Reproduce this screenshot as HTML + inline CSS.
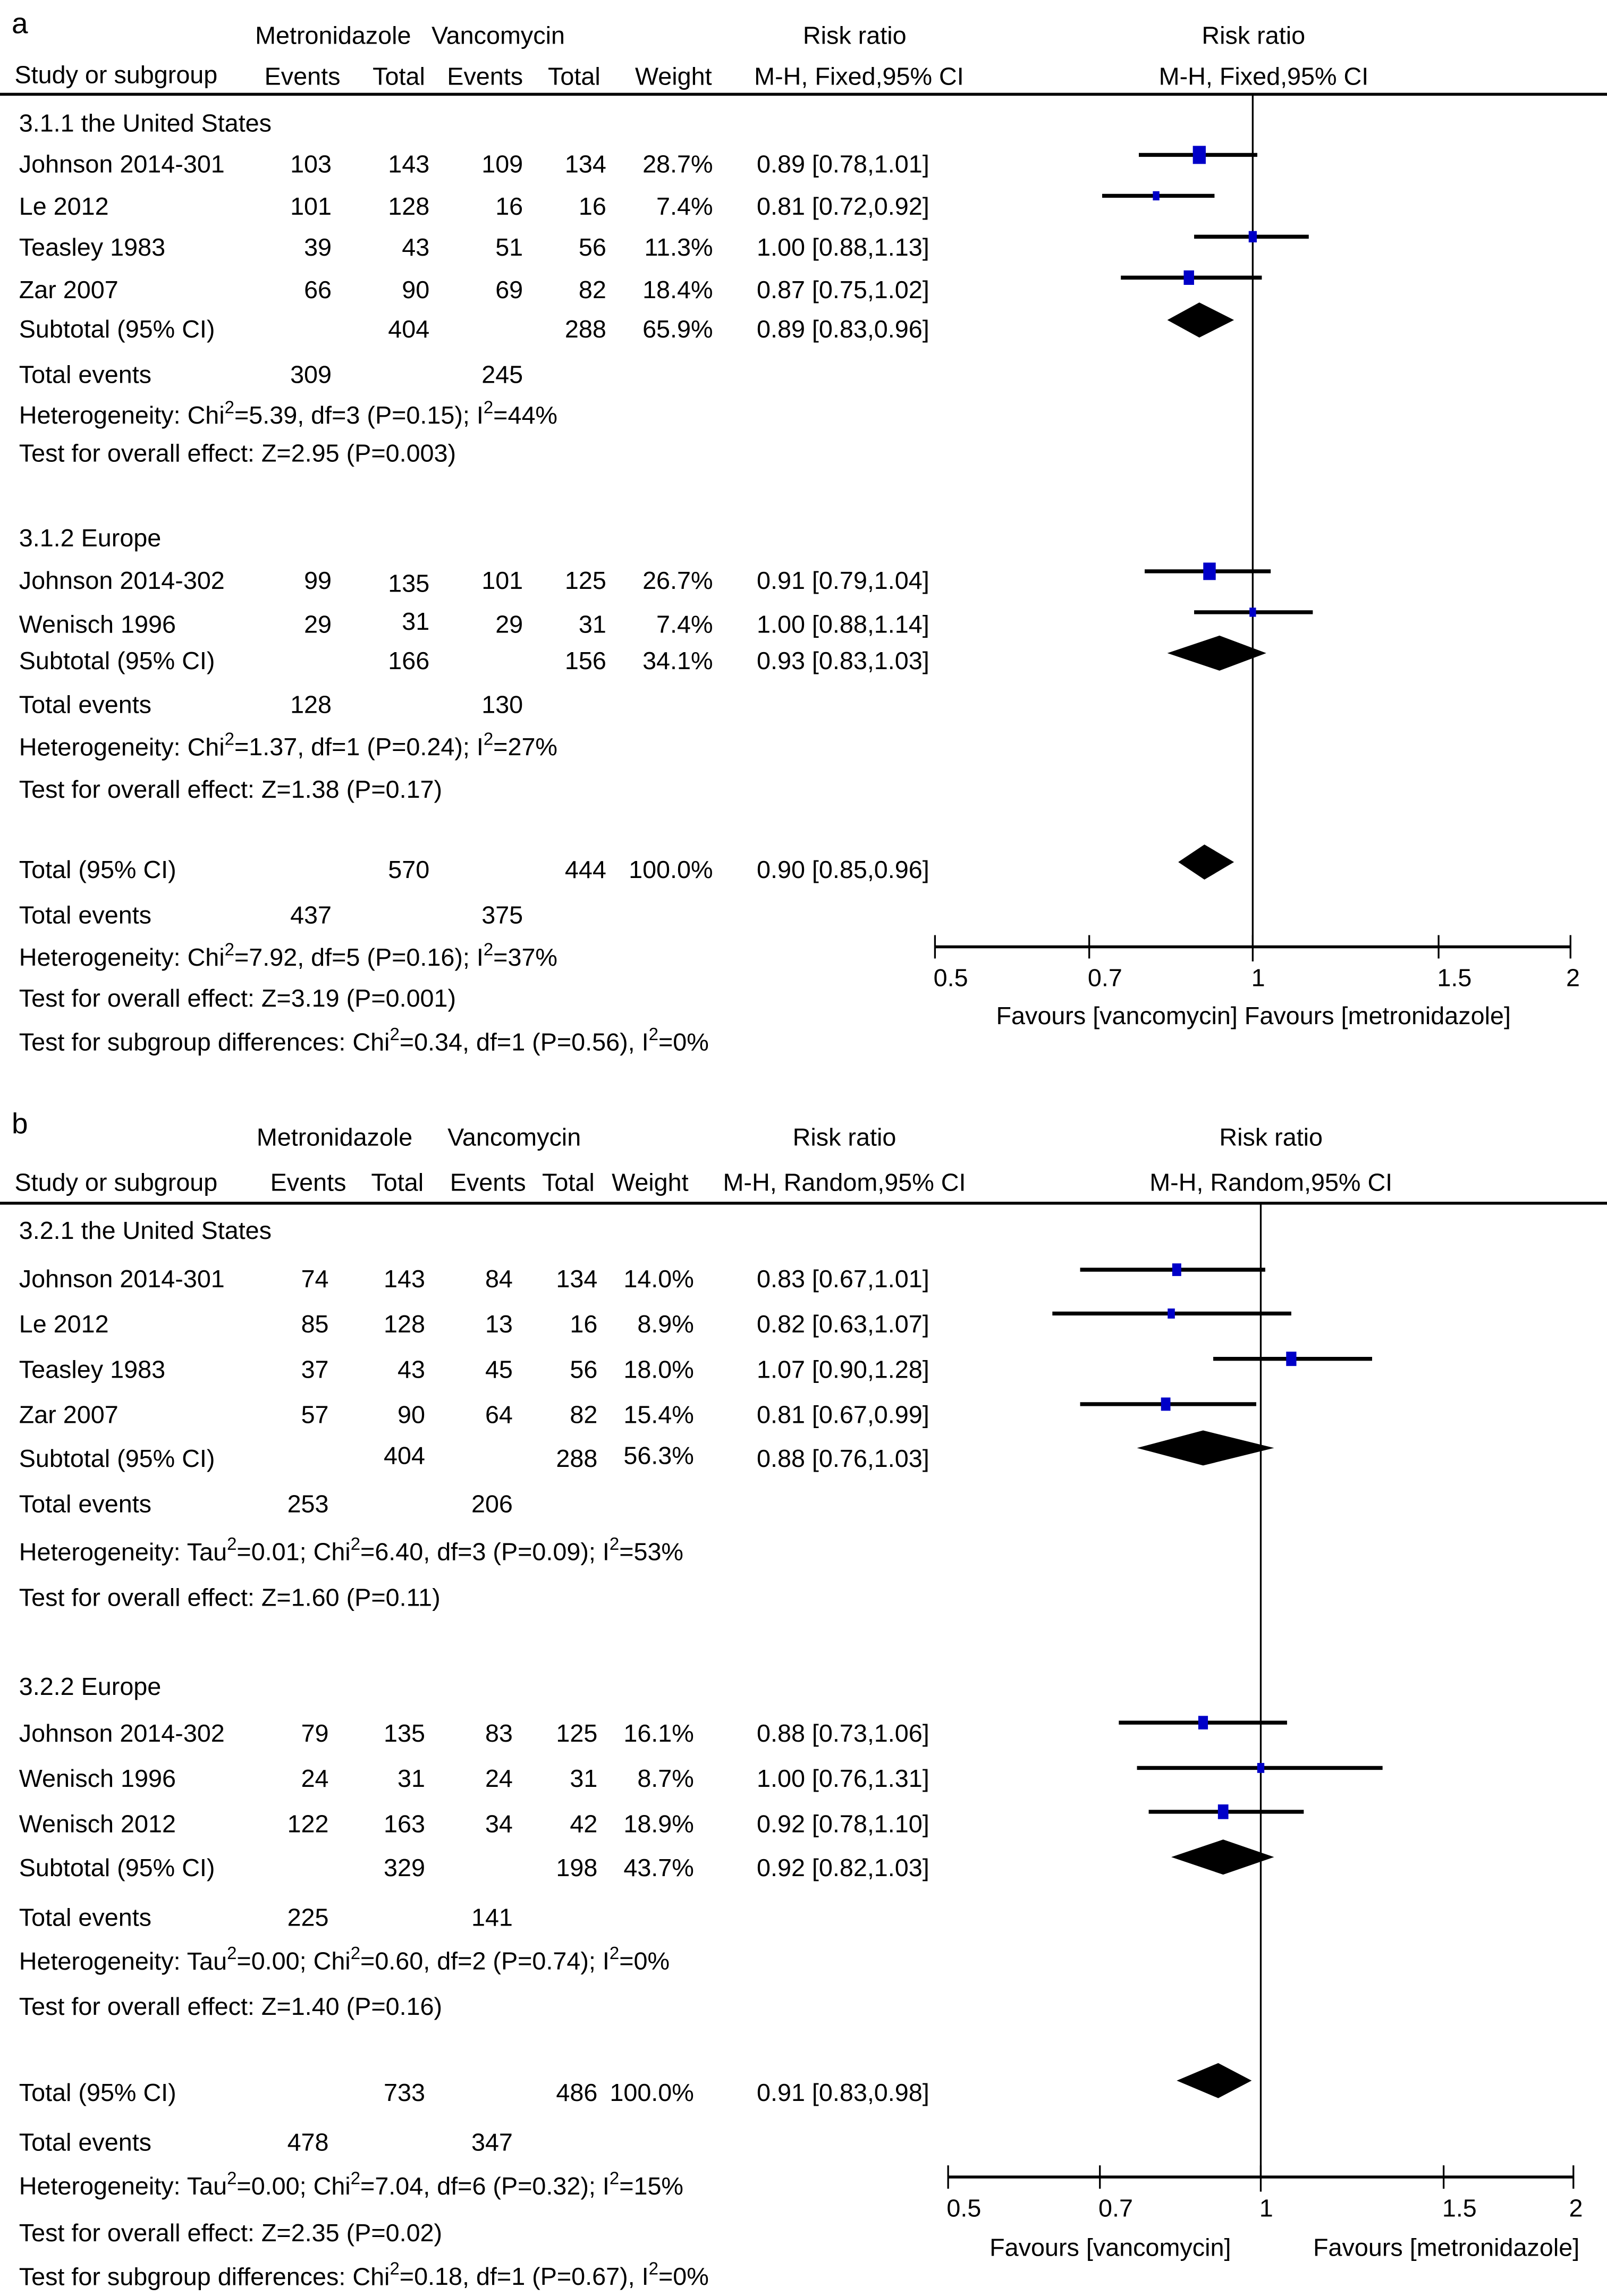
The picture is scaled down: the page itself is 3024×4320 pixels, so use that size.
<!DOCTYPE html>
<html><head><meta charset="utf-8">
<style>
html,body{margin:0;padding:0;background:#fff;}
svg{display:block;}
text{font-family:"Liberation Sans",Arial,sans-serif;font-size:17px;fill:#000;dominant-baseline:middle;transform:translateY(2.5px);}
.e{text-anchor:end}.m{text-anchor:middle}
</style></head>
<body>
<svg id="chart" width="3024" height="4320" viewBox="0 0 1100 1571.4" xmlns="http://www.w3.org/2000/svg">
<rect width="1100" height="1572" fill="#fff"/>
<!-- PANEL A -->
<g>
<text x="8" y="15" style="font-size:20px">a</text>
<text class="m" x="228" y="23">Metronidazole</text><text class="m" x="341" y="23">Vancomycin</text>
<text class="m" x="585" y="23">Risk ratio</text><text class="m" x="858" y="23">Risk ratio</text>
<text x="10" y="50">Study or subgroup</text><text class="m" x="207" y="51">Events</text><text class="m" x="273" y="51">Total</text>
<text class="m" x="332" y="51">Events</text><text class="m" x="393" y="51">Total</text><text class="m" x="461" y="51">Weight</text>
<text class="m" x="588" y="51">M-H, Fixed,95% CI</text><text class="m" x="865" y="51">M-H, Fixed,95% CI</text>
<line x1="0" y1="64.5" x2="1100" y2="64.5" stroke="#000" stroke-width="2"/>
<text x="13" y="83">3.1.1 the United States</text>
<g><text x="13" y="111">Johnson 2014-301</text><text class="e" x="227" y="111">103</text><text class="e" x="294" y="111">143</text><text class="e" x="358" y="111">109</text><text class="e" x="415" y="111">134</text><text class="e" x="488" y="111">28.7%</text><text x="518" y="111">0.89 [0.78,1.01]</text></g>
<g><text x="13" y="140">Le 2012</text><text class="e" x="227" y="140">101</text><text class="e" x="294" y="140">128</text><text class="e" x="358" y="140">16</text><text class="e" x="415" y="140">16</text><text class="e" x="488" y="140">7.4%</text><text x="518" y="140">0.81 [0.72,0.92]</text></g>
<g><text x="13" y="168">Teasley 1983</text><text class="e" x="227" y="168">39</text><text class="e" x="294" y="168">43</text><text class="e" x="358" y="168">51</text><text class="e" x="415" y="168">56</text><text class="e" x="488" y="168">11.3%</text><text x="518" y="168">1.00 [0.88,1.13]</text></g>
<g><text x="13" y="197">Zar 2007</text><text class="e" x="227" y="197">66</text><text class="e" x="294" y="197">90</text><text class="e" x="358" y="197">69</text><text class="e" x="415" y="197">82</text><text class="e" x="488" y="197">18.4%</text><text x="518" y="197">0.87 [0.75,1.02]</text></g>
<g><text x="13" y="224">Subtotal (95% CI)</text><text class="e" x="294" y="224">404</text><text class="e" x="415" y="224">288</text><text class="e" x="488" y="224">65.9%</text><text x="518" y="224">0.89 [0.83,0.96]</text></g>
<text x="13" y="255">Total events</text><text class="e" x="227" y="255">309</text><text class="e" x="358" y="255">245</text>
<text x="13" y="283">Heterogeneity: Chi<tspan dy="-6" font-size="12">2</tspan><tspan dy="6">=5.39, df=3 (P=0.15); I</tspan><tspan dy="-6" font-size="12">2</tspan><tspan dy="6">=44%</tspan></text>
<text x="13" y="309">Test for overall effect: Z=2.95 (P=0.003)</text>
<text x="13" y="367">3.1.2 Europe</text>
<g><text x="13" y="396">Johnson 2014-302</text><text class="e" x="227" y="396">99</text><text class="e" x="294" y="398">135</text><text class="e" x="358" y="396">101</text><text class="e" x="415" y="396">125</text><text class="e" x="488" y="396">26.7%</text><text x="518" y="396">0.91 [0.79,1.04]</text></g>
<g><text x="13" y="426">Wenisch 1996</text><text class="e" x="227" y="426">29</text><text class="e" x="294" y="424">31</text><text class="e" x="358" y="426">29</text><text class="e" x="415" y="426">31</text><text class="e" x="488" y="426">7.4%</text><text x="518" y="426">1.00 [0.88,1.14]</text></g>
<g><text x="13" y="451">Subtotal (95% CI)</text><text class="e" x="294" y="451">166</text><text class="e" x="415" y="451">156</text><text class="e" x="488" y="451">34.1%</text><text x="518" y="451">0.93 [0.83,1.03]</text></g>
<text x="13" y="481">Total events</text><text class="e" x="227" y="481">128</text><text class="e" x="358" y="481">130</text>
<text x="13" y="510">Heterogeneity: Chi<tspan dy="-6" font-size="12">2</tspan><tspan dy="6">=1.37, df=1 (P=0.24); I</tspan><tspan dy="-6" font-size="12">2</tspan><tspan dy="6">=27%</tspan></text>
<text x="13" y="539">Test for overall effect: Z=1.38 (P=0.17)</text>
<g><text x="13" y="594">Total (95% CI)</text><text class="e" x="294" y="594">570</text><text class="e" x="415" y="594">444</text><text class="e" x="488" y="594">100.0%</text><text x="518" y="594">0.90 [0.85,0.96]</text></g>
<text x="13" y="625">Total events</text><text class="e" x="227" y="625">437</text><text class="e" x="358" y="625">375</text>
<text x="13" y="654">Heterogeneity: Chi<tspan dy="-6" font-size="12">2</tspan><tspan dy="6">=7.92, df=5 (P=0.16); I</tspan><tspan dy="-6" font-size="12">2</tspan><tspan dy="6">=37%</tspan></text>
<text x="13" y="682">Test for overall effect: Z=3.19 (P=0.001)</text>
<text x="13" y="712">Test for subgroup differences: Chi<tspan dy="-6" font-size="12">2</tspan><tspan dy="6">=0.34, df=1 (P=0.56), I</tspan><tspan dy="-6" font-size="12">2</tspan><tspan dy="6">=0%</tspan></text>
<text class="m" x="858" y="694">Favours [vancomycin] Favours [metronidazole]</text>
<g id="plotA"></g>
</g>
<!-- PANEL B -->
<g>
<text x="8" y="768" style="font-size:20px">b</text>
<text class="m" x="229" y="777">Metronidazole</text><text class="m" x="352" y="777">Vancomycin</text>
<text class="m" x="578" y="777">Risk ratio</text><text class="m" x="870" y="777">Risk ratio</text>
<text x="10" y="808">Study or subgroup</text><text class="m" x="211" y="808">Events</text><text class="m" x="272" y="808">Total</text>
<text class="m" x="334" y="808">Events</text><text class="m" x="389" y="808">Total</text><text class="m" x="445" y="808">Weight</text>
<text class="m" x="578" y="808">M-H, Random,95% CI</text><text class="m" x="870" y="808">M-H, Random,95% CI</text>
<line x1="0" y1="823.5" x2="1100" y2="823.5" stroke="#000" stroke-width="2"/>
<text x="13" y="841">3.2.1 the United States</text>
<g><text x="13" y="874">Johnson 2014-301</text><text class="e" x="225" y="874">74</text><text class="e" x="291" y="874">143</text><text class="e" x="351" y="874">84</text><text class="e" x="409" y="874">134</text><text class="e" x="475" y="874">14.0%</text><text x="518" y="874">0.83 [0.67,1.01]</text></g>
<g><text x="13" y="905">Le 2012</text><text class="e" x="225" y="905">85</text><text class="e" x="291" y="905">128</text><text class="e" x="351" y="905">13</text><text class="e" x="409" y="905">16</text><text class="e" x="475" y="905">8.9%</text><text x="518" y="905">0.82 [0.63,1.07]</text></g>
<g><text x="13" y="936">Teasley 1983</text><text class="e" x="225" y="936">37</text><text class="e" x="291" y="936">43</text><text class="e" x="351" y="936">45</text><text class="e" x="409" y="936">56</text><text class="e" x="475" y="936">18.0%</text><text x="518" y="936">1.07 [0.90,1.28]</text></g>
<g><text x="13" y="967">Zar 2007</text><text class="e" x="225" y="967">57</text><text class="e" x="291" y="967">90</text><text class="e" x="351" y="967">64</text><text class="e" x="409" y="967">82</text><text class="e" x="475" y="967">15.4%</text><text x="518" y="967">0.81 [0.67,0.99]</text></g>
<g><text x="13" y="997">Subtotal (95% CI)</text><text class="e" x="291" y="995">404</text><text class="e" x="409" y="997">288</text><text class="e" x="475" y="995">56.3%</text><text x="518" y="997">0.88 [0.76,1.03]</text></g>
<text x="13" y="1028">Total events</text><text class="e" x="225" y="1028">253</text><text class="e" x="351" y="1028">206</text>
<text x="13" y="1061">Heterogeneity: Tau<tspan dy="-6" font-size="12">2</tspan><tspan dy="6">=0.01; Chi</tspan><tspan dy="-6" font-size="12">2</tspan><tspan dy="6">=6.40, df=3 (P=0.09); I</tspan><tspan dy="-6" font-size="12">2</tspan><tspan dy="6">=53%</tspan></text>
<text x="13" y="1092">Test for overall effect: Z=1.60 (P=0.11)</text>
<text x="13" y="1153">3.2.2 Europe</text>
<g><text x="13" y="1185">Johnson 2014-302</text><text class="e" x="225" y="1185">79</text><text class="e" x="291" y="1185">135</text><text class="e" x="351" y="1185">83</text><text class="e" x="409" y="1185">125</text><text class="e" x="475" y="1185">16.1%</text><text x="518" y="1185">0.88 [0.73,1.06]</text></g>
<g><text x="13" y="1216">Wenisch 1996</text><text class="e" x="225" y="1216">24</text><text class="e" x="291" y="1216">31</text><text class="e" x="351" y="1216">24</text><text class="e" x="409" y="1216">31</text><text class="e" x="475" y="1216">8.7%</text><text x="518" y="1216">1.00 [0.76,1.31]</text></g>
<g><text x="13" y="1247">Wenisch 2012</text><text class="e" x="225" y="1247">122</text><text class="e" x="291" y="1247">163</text><text class="e" x="351" y="1247">34</text><text class="e" x="409" y="1247">42</text><text class="e" x="475" y="1247">18.9%</text><text x="518" y="1247">0.92 [0.78,1.10]</text></g>
<g><text x="13" y="1277">Subtotal (95% CI)</text><text class="e" x="291" y="1277">329</text><text class="e" x="409" y="1277">198</text><text class="e" x="475" y="1277">43.7%</text><text x="518" y="1277">0.92 [0.82,1.03]</text></g>
<text x="13" y="1311">Total events</text><text class="e" x="225" y="1311">225</text><text class="e" x="351" y="1311">141</text>
<text x="13" y="1341">Heterogeneity: Tau<tspan dy="-6" font-size="12">2</tspan><tspan dy="6">=0.00; Chi</tspan><tspan dy="-6" font-size="12">2</tspan><tspan dy="6">=0.60, df=2 (P=0.74); I</tspan><tspan dy="-6" font-size="12">2</tspan><tspan dy="6">=0%</tspan></text>
<text x="13" y="1372">Test for overall effect: Z=1.40 (P=0.16)</text>
<g><text x="13" y="1431">Total (95% CI)</text><text class="e" x="291" y="1431">733</text><text class="e" x="409" y="1431">486</text><text class="e" x="475" y="1431">100.0%</text><text x="518" y="1431">0.91 [0.83,0.98]</text></g>
<text x="13" y="1465">Total events</text><text class="e" x="225" y="1465">478</text><text class="e" x="351" y="1465">347</text>
<text x="13" y="1495">Heterogeneity: Tau<tspan dy="-6" font-size="12">2</tspan><tspan dy="6">=0.00; Chi</tspan><tspan dy="-6" font-size="12">2</tspan><tspan dy="6">=7.04, df=6 (P=0.32); I</tspan><tspan dy="-6" font-size="12">2</tspan><tspan dy="6">=15%</tspan></text>
<text x="13" y="1527">Test for overall effect: Z=2.35 (P=0.02)</text>
<text x="13" y="1557">Test for subgroup differences: Chi<tspan dy="-6" font-size="12">2</tspan><tspan dy="6">=0.18, df=1 (P=0.67), I</tspan><tspan dy="-6" font-size="12">2</tspan><tspan dy="6">=0%</tspan></text>
<text class="m" x="760" y="1537">Favours [vancomycin]</text>
<text class="m" x="990" y="1537">Favours [metronidazole]</text>
<g id="plotB"></g>
</g>
</svg>
<script>
// Panel A data
const aRR = [0.89, 0.81, 1.00, 0.87, 0.91, 1.00];
const aLo = [0.78, 0.72, 0.88, 0.75, 0.79, 0.88];
const aHi = [1.01, 0.92, 1.13, 1.02, 1.04, 1.14];
const aW  = [28.7, 7.4, 11.3, 18.4, 26.7, 7.4];
const aRowY = [106, 134, 162, 190, 391, 419];
const aSumRR = [0.89, 0.93, 0.90];
const aSumLo = [0.83, 0.83, 0.85];
const aSumHi = [0.96, 1.03, 0.96];
const aSumY = [219, 447, 590];
// Panel B data
const bRR = [0.83, 0.82, 1.07, 0.81, 0.88, 1.00, 0.92];
const bLo = [0.67, 0.63, 0.90, 0.67, 0.73, 0.76, 0.78];
const bHi = [1.01, 1.07, 1.28, 0.99, 1.06, 1.31, 1.10];
const bW  = [14.0, 8.9, 18.0, 15.4, 16.1, 8.7, 18.9];
const bRowY = [869, 899, 930, 961, 1179, 1210, 1240];
const bSumRR = [0.88, 0.92, 0.91];
const bSumLo = [0.76, 0.82, 0.83];
const bSumHi = [1.03, 1.03, 0.98];
const bSumY = [991, 1271, 1424];
const tickVals = [0.5, 0.7, 1, 1.5, 2];
const tickLabels = ["0.5", "0.7", "1", "1.5", "2"];

const NS = "http://www.w3.org/2000/svg";
function mk(parent, tag, attrs) {
  const e = document.createElementNS(NS, tag);
  for (const k in attrs) e.setAttribute(k, attrs[k]);
  parent.appendChild(e);
  return e;
}
function drawPanel(gid, cx, half, top, axisY, rr, lo, hi, w, rowY, sRR, sLo, sHi, sY) {
  const g = document.getElementById(gid);
  const xs = v => cx + half * Math.log(v) / Math.log(2);
  const ref = mk(g, "line", {x1: xs(1), y1: top, x2: xs(1), y2: axisY, stroke: "#000", "stroke-width": 1.2});
  
  
  const ax = mk(g, "line", {x1: xs(0.5), y1: axisY, x2: xs(2), y2: axisY, stroke: "#000", "stroke-width": 2});
  
  
  tickVals.forEach((v, i) => {
    const t = mk(g, "line", {x1: xs(v), y1: axisY - 8, x2: xs(v), y2: axisY + (v === 1 ? 10 : 8), stroke: "#000", "stroke-width": 1.2});
    
    
    const lb = mk(g, "text", {x: xs(v) - 1 - (v === 2 ? 2 : 0), y: axisY + 20});
    lb.textContent = tickLabels[i];
    
    
  });
  rr.forEach((v, i) => {
    const y = rowY[i];
    const ci = mk(g, "line", {x1: xs(lo[i]), y1: y, x2: xs(hi[i]), y2: y, stroke: "#000", "stroke-width": 2.7});
    
    
    const sw = 1.65 * Math.sqrt(w[i]), sh = sw * 1.4;
    const sq = mk(g, "rect", {x: xs(v) - sw / 2, y: y - sh / 2, width: sw, height: sh, fill: "#0000c8"});
    
    
  });
  sRR.forEach((v, i) => {
    const y = sY[i];
    const pts = [[xs(sLo[i]), y], [xs(v), y - 12], [xs(sHi[i]), y], [xs(v), y + 12]].map(p => p.join(",")).join(" ");
    const d = mk(g, "polygon", {points: pts, fill: "#000"});
    
    
  });
}
drawPanel("plotA", 857.5, 217.5, 65, 648, aRR, aLo, aHi, aW, aRowY, aSumRR, aSumLo, aSumHi, aSumY);
drawPanel("plotB", 863, 214, 824, 1490, bRR, bLo, bHi, bW, bRowY, bSumRR, bSumLo, bSumHi, bSumY);
</script>
</body></html>
